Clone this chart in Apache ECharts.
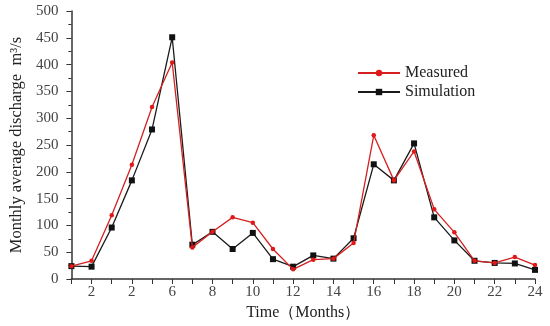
<!DOCTYPE html>
<html>
<head>
<meta charset="utf-8">
<script src="https://cdn.jsdelivr.net/npm/echarts@6/dist/echarts.min.js"></script>
<style>html,body{margin:0;padding:0;background:#fff}#c{width:550px;height:326px}</style>
</head>
<body>
<div id="c"></div>
<script>
var months = [1,2,3,4,5,6,7,8,9,10,11,12,13,14,15,16,17,18,19,20,21,22,23,24];
var tickLabels = ['', '2', '', '2', '', '6', '', '8', '', '10', '', '12', '', '14', '', '16', '', '18', '', '20', '', '22', '', '24'];
var measured = [24, 34, 119, 213, 321, 404, 59, 88, 115, 105, 56, 18, 36, 38, 67, 268, 184, 238, 130, 87, 34, 30, 41, 26];
var simulation = [24, 23, 96, 184, 279, 451, 64, 88, 56, 86, 37, 23, 44, 38, 76, 214, 184, 253, 115, 72, 34, 30, 29, 17];

var font = '"Liberation Serif", "Times New Roman", serif';
var chart = echarts.init(document.getElementById('c'));
chart.setOption({
  animation: false,
  backgroundColor: '#fff',
  grid: {left: 70, right: 15, top: 11, bottom: 45, containLabel: false},
  legend: {
    orient: 'vertical', left: 352, top: 60, itemWidth: 42, itemHeight: 8, itemGap: 3,
    textStyle: {fontFamily: font, fontSize: 16, color: '#222'},
    data: ['Measured', 'Simulation']
  },
  xAxis: {
    type: 'category', boundaryGap: false, data: months,
    name: 'Time（Months）', nameLocation: 'middle', nameGap: 26,
    nameTextStyle: {fontFamily: font, fontSize: 16, color: '#222'},
    axisLine: {lineStyle: {color: '#333', width: 1.5}},
    axisTick: {show: true, interval: 0, length: 5, lineStyle: {color: '#333'}},
    axisLabel: {interval: 0, fontFamily: font, fontSize: 15, color: '#444', margin: 6,
      formatter: function (v, i) { return tickLabels[i]; }},
    splitLine: {show: false}
  },
  yAxis: {
    type: 'value', min: 0, max: 500, interval: 50,
    name: 'Monthly average discharge  m³/s', nameLocation: 'middle', nameGap: 41,
    nameTextStyle: {fontFamily: font, fontSize: 16.5, color: '#222'},
    axisLine: {show: true, lineStyle: {color: '#333', width: 1.5}},
    axisTick: {show: true, length: 5, lineStyle: {color: '#333'}},
    minorTick: {show: true, splitNumber: 2, length: 3, lineStyle: {color: '#333'}},
    axisLabel: {fontFamily: font, fontSize: 15, color: '#444', margin: 13},
    splitLine: {show: false}
  },
  series: [
    {name: 'Measured', type: 'line', data: measured, symbol: 'circle', symbolSize: 4.5,
      lineStyle: {color: '#d42020', width: 1.3}, itemStyle: {color: '#e01818'}, z: 3},
    {name: 'Simulation', type: 'line', data: simulation, symbol: 'rect', symbolSize: 6,
      lineStyle: {color: '#1a1a1a', width: 1.3}, itemStyle: {color: '#111'}, z: 2}
  ]
});
</script>
</body>
</html>
